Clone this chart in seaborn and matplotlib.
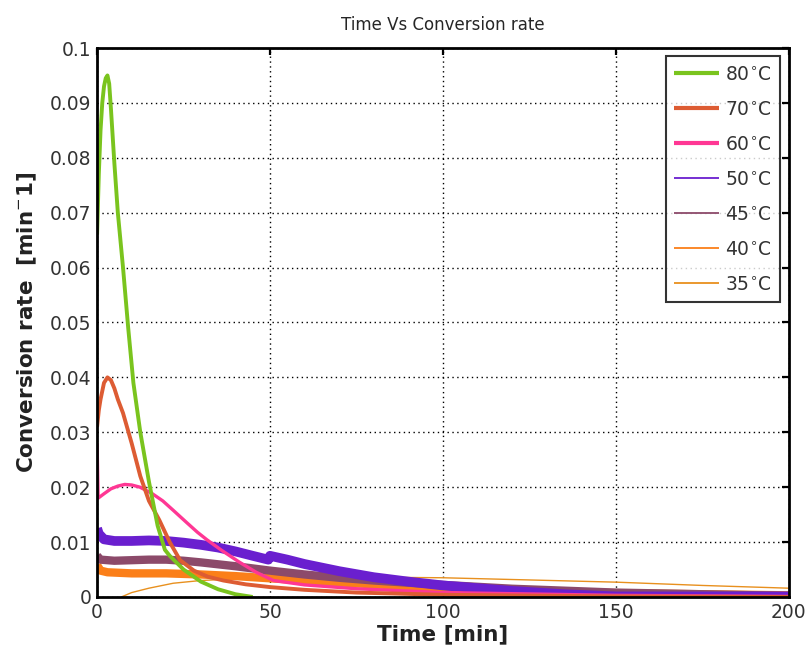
import numpy as np
import pandas as pd
import matplotlib
matplotlib.use("Agg")
import matplotlib.pyplot as plt
import seaborn as sns
from matplotlib.lines import Line2D

# ---- data ----
t80 = [0, 0.5, 1, 1.5, 2, 2.5, 3, 3.5, 4, 5, 6, 7.5, 9, 10.5, 12.5, 15, 17.5, 19.6, 21, 25, 30, 35, 40, 45]
v80 = [0.066, 0.077, 0.085, 0.090, 0.093, 0.0945, 0.095, 0.0935, 0.089, 0.079, 0.070, 0.060,
       0.049, 0.039, 0.030, 0.021, 0.013, 0.0086, 0.0075, 0.005, 0.0028, 0.0014, 0.0005, 0.0]

t70 = [0, 0.5, 1, 2, 3, 4, 5, 6, 7.5, 10, 12.5, 15, 18, 21, 24, 28, 32, 36.5, 43, 50, 60, 75, 100, 150, 200]
v70 = [0.031, 0.034, 0.036, 0.039, 0.040, 0.0395, 0.038, 0.036, 0.0335, 0.028, 0.022, 0.0175,
       0.014, 0.010, 0.0067, 0.0048, 0.0037, 0.003, 0.0023, 0.0018, 0.0013, 0.0008, 0.0004,
       0.0001, 0.0]

t60 = [0, 0.3, 2, 4, 6, 8, 10, 12.4, 16, 19, 22, 26, 29, 31.8, 36, 41, 46, 51, 60, 75, 100, 150, 200]
v60 = [0.028, 0.018, 0.0188, 0.0197, 0.0202, 0.0205, 0.0204, 0.020, 0.0188, 0.0175, 0.0158,
       0.0135, 0.0118, 0.0104, 0.0085, 0.0064, 0.0045, 0.003, 0.0022, 0.0015, 0.0008, 0.0003,
       0.0001]

t50 = [0, 0.5, 2, 5, 10, 15, 20, 25, 30, 35, 40, 45, 49.5, 50, 55, 60, 70, 80, 90, 100, 120, 135, 150, 200]
v50 = [0.0125, 0.0115, 0.0105, 0.0102, 0.0102, 0.0103, 0.0102, 0.0099, 0.0095, 0.009, 0.0083,
       0.0075, 0.0068, 0.0075, 0.0068, 0.006, 0.0047, 0.0036, 0.0028, 0.0021, 0.0011, 0.0005,
       0.0001, 0.0001]

t45 = [0, 1, 5, 10, 15, 20, 25, 30, 40, 50, 60, 70, 80, 100, 120, 150, 200]
v45 = [0.0075, 0.0068, 0.0066, 0.0067, 0.0068, 0.0068, 0.0066, 0.0063, 0.0056, 0.0048, 0.0041,
       0.0035, 0.003, 0.0022, 0.0015, 0.0008, 0.0002]

t40 = [0, 1, 3, 10, 20, 30, 40, 50, 60, 80, 100, 125, 150, 200]
v40 = [0.0058, 0.0048, 0.0045, 0.0043, 0.0043, 0.0041, 0.0038, 0.0034, 0.003, 0.0023, 0.0017,
       0.0011, 0.0007, 0.0003]

t35 = [7, 10, 15, 22, 30, 40, 60, 80, 100, 125, 150, 175, 200]
v35 = [0.0, 0.0008, 0.0016, 0.0025, 0.003, 0.0033, 0.0035, 0.0036, 0.0035, 0.0031, 0.0027,
       0.0021, 0.0016]

labels = ["80$^{\\circ}$C", "70$^{\\circ}$C", "60$^{\\circ}$C", "50$^{\\circ}$C",
          "45$^{\\circ}$C", "40$^{\\circ}$C", "35$^{\\circ}$C"]
series = [(t80, v80), (t70, v70), (t60, v60), (t50, v50), (t45, v45), (t40, v40), (t35, v35)]
colors = ["#7ac41e", "#dd5c33", "#ff3794", "#6a1fcf", "#8c4a6a", "#fb7f19", "#e8901e"]
widths = [2.8, 2.8, 2.4, 7, 6, 6, 1.0]
leg_widths = [3.0, 3.0, 3.0, 1.3, 1.3, 1.3, 1.3]

frames = []
for lab, (t, v) in zip(labels, series):
    frames.append(pd.DataFrame({"time": t, "rate": v, "series": lab}))
df = pd.concat(frames, ignore_index=True)

sns.set_style("white")
plt.rcParams['font.family'] = ['DejaVu Sans']
plt.rcParams['mathtext.fontset'] = 'dejavusans'

fig = plt.figure(figsize=(8.09, 6.54), dpi=100)
ax = fig.add_axes([0.12, 0.0872, 0.855, 0.8394])

order = [6, 5, 4, 3, 2, 1, 0]
for i in order:
    sub = df[df["series"] == labels[i]]
    sns.lineplot(data=sub, x="time", y="rate", ax=ax, color=colors[i],
                 linewidth=widths[i], legend=False, estimator=None, sort=False,
                 solid_capstyle="butt", solid_joinstyle="round")

ax.set_xlim(0, 200)
ax.set_ylim(0, 0.1)
ax.set_xticks([0, 50, 100, 150, 200])
ax.set_yticks(np.round(np.arange(0, 0.1001, 0.01), 2))
ax.set_yticklabels(["0", "0.01", "0.02", "0.03", "0.04", "0.05", "0.06", "0.07", "0.08", "0.09", "0.1"])
ax.grid(True, color="black", linestyle=(0, (1, 2.5)), linewidth=1.0)
ax.tick_params(axis="both", direction="in", length=5, width=1.6, top=True, right=True,
               labelsize=13.5, colors="black", pad=4)
ax.tick_params(axis="y", labelcolor="#333333")
ax.tick_params(axis="x", labelcolor="#333333")
for sp in ax.spines.values():
    sp.set_linewidth(2.0)
    sp.set_color("black")

ax.set_xlabel("Time [min]", fontsize=15.5, fontweight="bold", labelpad=2, color="#222222")
ax.set_ylabel("Conversion rate  [min$^{-}$1]", fontsize=15.5, fontweight="bold", labelpad=8,
              color="#222222")
ax.set_title("Time Vs Conversion rate", fontsize=12, pad=13)

handles = [Line2D([0], [0], color=c, lw=w, solid_capstyle="butt") for c, w in zip(colors, leg_widths)]
leg = ax.legend(handles, labels, loc="upper right", fontsize=13.5, frameon=True, fancybox=False,
                edgecolor="black", handlelength=2.4, labelspacing=0.85, borderaxespad=0.45,
                handletextpad=0.3, borderpad=0.45)
leg.get_frame().set_linewidth(1.5)
for txt in leg.get_texts():
    txt.set_color("#333333")

fig.savefig("out.png", dpi=100)
